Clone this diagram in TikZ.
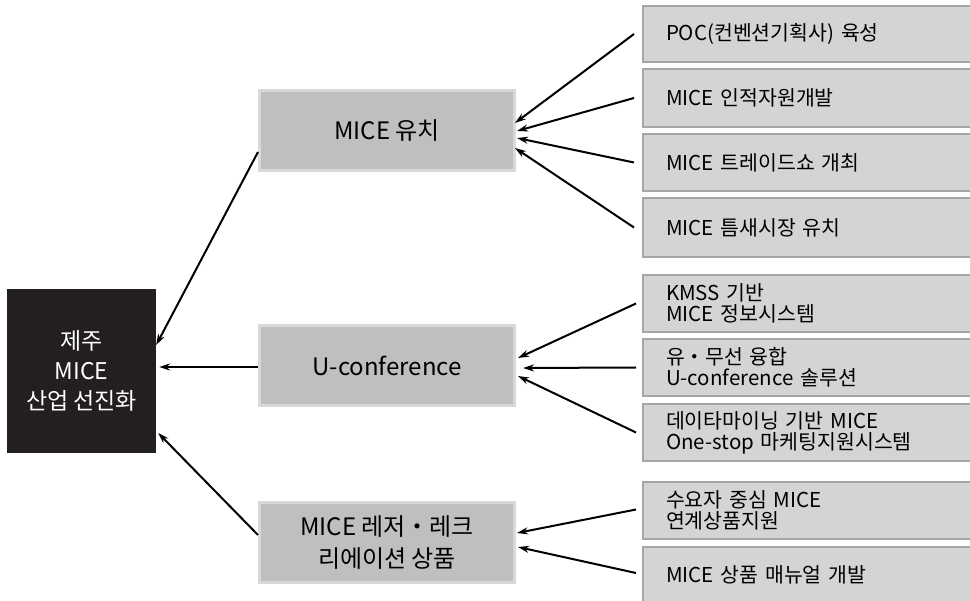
\documentclass[tikz,border=0pt]{standalone}
\usepackage{fontspec}
\setmainfont{Noto Sans CJK KR}
\usetikzlibrary{arrows.meta,calc}
\definecolor{blk}{HTML}{231F20}
\definecolor{midfill}{HTML}{BFBFBF}
\definecolor{midline}{HTML}{D9D9D9}
\definecolor{subfill}{HTML}{D4D4D4}
\definecolor{subline}{HTML}{A6A6A6}
\begin{document}
\begin{tikzpicture}[x=1pt,y=-1pt,
  mainbox/.style={fill=blk, text=white, minimum width=149pt, minimum height=164pt,
    align=center, font=\fontsize{23}{30}\selectfont, inner sep=0pt},
  midbox/.style={fill=midfill, draw=midline, line width=3pt, minimum width=255pt,
    minimum height=80pt, align=center, font=\fontsize{24}{32}\selectfont, inner sep=0pt},
  subbox/.style={fill=subfill, draw=subline, line width=2pt, text width=287pt,
    inner xsep=23pt, inner ysep=0pt, minimum height=57pt, align=left,
    font=\fontsize{20.5}{21}\selectfont},
  arr/.style={line width=2pt, -{Stealth[length=11pt,width=7pt]}}]
\useasboundingbox (0,0) rectangle (970,601);
\clip (0,0) rectangle (970,601);

% main box
\node[mainbox] (main) at (81.5,371) {제주\\MICE\\산업 선진화};

% middle boxes
\node[midbox] (m1) at (387,130.5) {MICE 유치};
\node[midbox] (m2) at (387,366) {U-conference};
\node[midbox] (m3) at (387,542.5) {MICE 레저・레크\\리에이션 상품};

% right boxes
\node[subbox, minimum height=56pt] (r1) at (809.5,34) {POC(컨벤션기획사) 육성};
\node[subbox, minimum height=58pt] (r2) at (809.5,98) {MICE 인적자원개발};
\node[subbox, minimum height=57pt] (r3) at (809.5,162.5) {MICE 트레이드쇼 개최};
\node[subbox, minimum height=59pt] (r4) at (809.5,227.5) {MICE 틈새시장 유치};
\node[subbox, minimum height=57pt] (r5) at (809.5,303.5) {KMSS 기반\\MICE 정보시스템};
\node[subbox, minimum height=57pt] (r6) at (809.5,367.5) {유・무선 융합\\U-conference 솔루션};
\node[subbox, minimum height=57pt] (r7) at (809.5,432.5) {데이타마이닝 기반 MICE\\One-stop 마케팅지원시스템};
\node[subbox, minimum height=57pt] (r8) at (809.5,510.5) {수요자 중심 MICE\\연계상품지원};
\node[subbox, minimum height=56pt] (r9) at (809.5,575) {MICE 상품 매뉴얼 개발};

% arrows right -> middle
\draw[arr] ($(r1.west)+(-8,0)$) -- ($(m1.east)+(-1,-7.5)$);
\draw[arr] ($(r2.west)+(-8,0)$) -- ($(m1.east)+(1,0.5)$);
\draw[arr] ($(r3.west)+(-8,0)$) -- ($(m1.east)+(1,7.5)$);
\draw[arr] ($(r4.west)+(-8,0)$) -- ($(m1.east)+(-1,17.5)$);

\draw[arr] ($(r5.west)+(-6,0)$) -- ($(m2.east)+(2,-8)$);
\draw[arr] ($(r6.west)+(-6,0)$) -- ($(m2.east)+(7,2)$);
\draw[arr] ($(r7.west)+(-6,0)$) -- ($(m2.east)+(2,10)$);

\draw[arr] ($(r8.west)+(-6,-1)$) -- ($(m3.east)+(1,-9.5)$);
\draw[arr] ($(r9.west)+(-6,-2)$) -- ($(m3.east)+(2,4.5)$);

% arrows middle -> main
\draw[arr] ($(m1.west)+(0,21.5)$) -- ($(main.east)+(0,-26)$);
\draw[arr] ($(m2.west)+(0,1)$) -- ($(main.east)+(3,-4)$);
\draw[arr] ($(m3.west)+(0,-7.5)$) -- ($(main.east)+(2,62)$);
\end{tikzpicture}
\end{document}
